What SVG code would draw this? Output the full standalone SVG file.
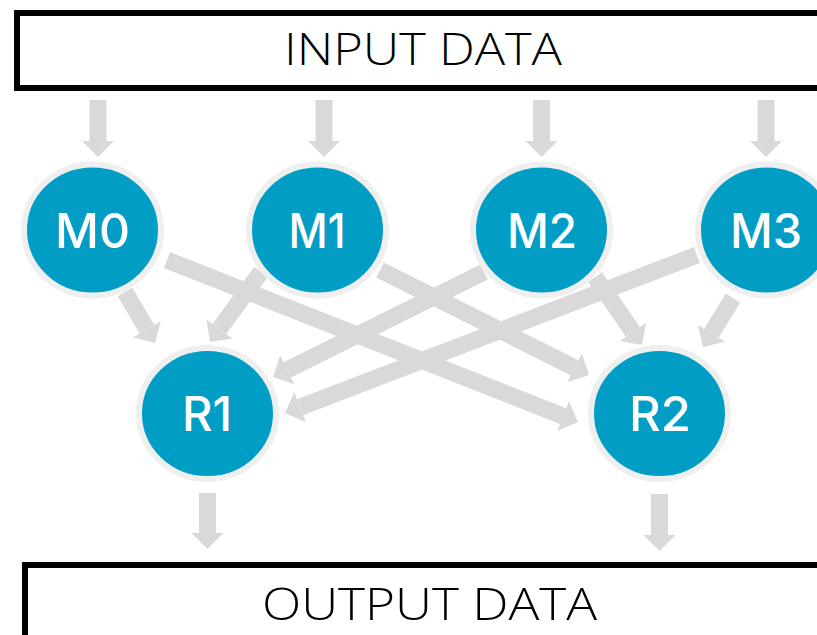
<svg xmlns="http://www.w3.org/2000/svg" width="817" height="635" viewBox="0 0 817 635">
  <style>
    .box { fill: #ffffff; stroke: #000000; stroke-width: 6; }
    .boxtext { font-family: "Open Sans", "Liberation Sans", sans-serif; font-weight: 300; font-size: 45px; fill: #000000; text-anchor: middle; }
    .node { fill: #029dc5; stroke: #efefef; stroke-width: 6; }
    .label { font-family: Inter, "Open Sans", "Liberation Sans", sans-serif; font-weight: 500; font-size: 48px; fill: #ffffff; text-anchor: middle; }
    .conn { stroke: #d9d9d9; stroke-width: 17; fill: none; stroke-linecap: butt; marker-end: url(#head); }
  </style>
  <defs>
    <marker id="head" markerUnits="userSpaceOnUse" markerWidth="16" markerHeight="32" refX="0" refY="16" orient="auto" overflow="visible">
      <path d="M0,0 L16,16 L0,32 Z" fill="#d9d9d9"/>
    </marker>
  </defs>
  <rect width="817" height="635" fill="#ffffff"/>

  <g id="input">
    <rect class="box" x="17" y="13" width="830" height="75"/>
    <text class="boxtext" x="423" y="65" textLength="278" lengthAdjust="spacingAndGlyphs">INPUT DATA</text>
  </g>
  <g id="output">
    <rect class="box" x="25" y="565" width="830" height="100"/>
    <text class="boxtext" x="429.5" y="620" textLength="335" lengthAdjust="spacingAndGlyphs">OUTPUT DATA</text>
  </g>

  <g id="connectors">
    <line class="conn" x1="98" y1="100" x2="98" y2="141"/>
    <line class="conn" x1="324" y1="100" x2="324" y2="141"/>
    <line class="conn" x1="541.5" y1="100" x2="541.5" y2="141"/>
    <line class="conn" x1="766" y1="100" x2="766" y2="141"/>
    <line class="conn" x1="125" y1="292" x2="147" y2="329.2"/>
    <line class="conn" x1="261" y1="272" x2="219.4" y2="329.1"/>
    <line class="conn" x1="167" y1="260" x2="563.1" y2="416.1"/>
    <line class="conn" x1="380" y1="270" x2="574.7" y2="367.8"/>
    <line class="conn" x1="484" y1="272" x2="287.3" y2="369.9"/>
    <line class="conn" x1="697" y1="255" x2="300" y2="407.3"/>
    <line class="conn" x1="595" y1="277" x2="632.9" y2="331.8"/>
    <line class="conn" x1="733" y1="298" x2="711.4" y2="333.4"/>
    <line class="conn" x1="207.5" y1="493" x2="207.5" y2="533"/>
    <line class="conn" x1="659.5" y1="494" x2="659.5" y2="535"/>
  </g>

  <g id="M0">
    <ellipse class="node" cx="92.5" cy="230" rx="68.5" ry="65.5"/>
    <text class="label" x="92.5" y="248" textLength="75" lengthAdjust="spacingAndGlyphs">M0</text>
  </g>
  <g id="M1">
    <ellipse class="node" cx="317.5" cy="230" rx="68.5" ry="65.5"/>
    <text class="label" x="317" y="248" textLength="57" lengthAdjust="spacingAndGlyphs">M1</text>
  </g>
  <g id="M2">
    <ellipse class="node" cx="541.5" cy="230" rx="68.5" ry="65.5"/>
    <text class="label" x="542" y="248" textLength="70" lengthAdjust="spacingAndGlyphs">M2</text>
  </g>
  <g id="M3">
    <ellipse class="node" cx="766.5" cy="230" rx="68.5" ry="65.5"/>
    <text class="label" x="766" y="248" textLength="72" lengthAdjust="spacingAndGlyphs">M3</text>
  </g>
  <g id="R1">
    <ellipse class="node" cx="207.5" cy="413.5" rx="68.5" ry="65.5"/>
    <text class="label" x="207" y="431" textLength="50" lengthAdjust="spacingAndGlyphs">R1</text>
  </g>
  <g id="R2">
    <ellipse class="node" cx="659.5" cy="413.5" rx="68.5" ry="65.5"/>
    <text class="label" x="660" y="431" textLength="62" lengthAdjust="spacingAndGlyphs">R2</text>
  </g>
</svg>
